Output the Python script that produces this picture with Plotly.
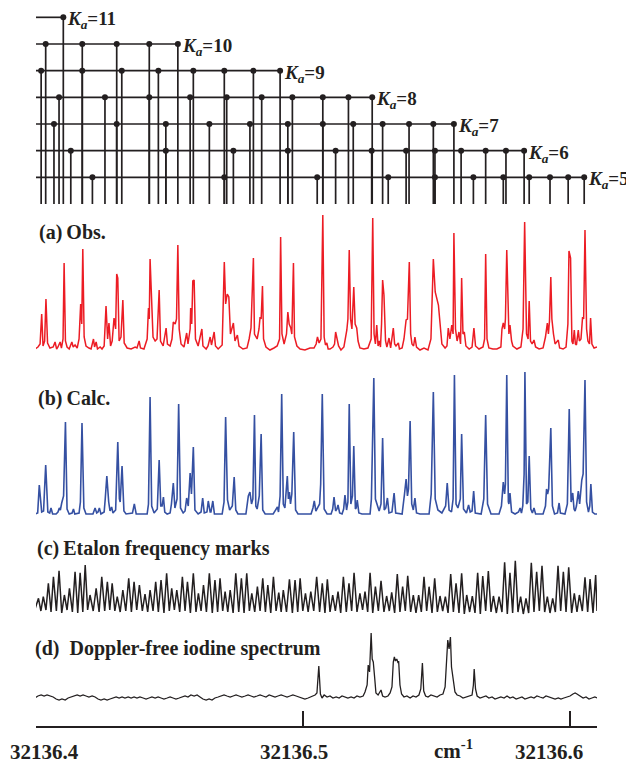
import plotly.graph_objects as go

# ---------------------------------------------------------------
# DATA  (x positions are offsets from 32136.4 cm-1 in units of 1e-4 cm-1)
# ---------------------------------------------------------------
NU0 = 32136.4
X_END = 2101

tick_values = [32136.4, 32136.5, 32136.6]
tick_labels = ["32136.4", "32136.5", "32136.6"]
unit_label = "cm<sup>-1</sup>"

panel_labels = ["(a)\u2009Obs.", "(b)\u2009Calc.", "(c)\u2009Etalon frequency marks",
                "(d)\u00a0\u00a0Doppler-free iodine spectrum"]

# Ka sub-band line assignments (line positions)
ka11_lines = [102]
ka10_lines = [36, 173, 302, 424, 531]
ka9_lines = [19, 173, 321, 458, 589, 705, 814, 914]
ka8_lines = [86, 258, 424, 577, 714, 845, 960, 1074, 1170, 1259]
ka7_lines = [67, 302, 486, 649, 801, 943, 1074, 1188, 1298, 1397, 1488, 1565]
ka6_lines = [130, 486, 739, 943, 1122, 1257, 1386, 1494, 1592, 1684, 1760, 1828]
ka5_lines = [211, 705, 1053, 1319, 1494, 1638, 1750, 1847, 1925, 1993, 2053]

# (a) observed spectrum: (offset, intensity)
obs_points = [
    (-4, 0), (7, 2), (15, 5), (21, 35), (26, 3), (32, 8), (37, 50), (43, 6), (52, 1), (64, 2), (71, 7), (77, 0),
    (82, 2), (90, 7), (95, 1), (101, 10), (105, 86), (110, 8), (116, 2), (124, 0), (134, 7), (139, 2), (146, 4),
    (154, 1), (161, 10), (167, 45), (171, 25), (175, 100), (180, 12), (187, 3), (198, 1), (206, 0), (215, 10),
    (219, 2), (225, 7), (230, 0), (240, 2), (247, 0), (255, 3), (262, 43), (268, 10), (273, 26), (279, 3),
    (285, 8), (292, 31), (298, 20), (302, 75), (306, 71), (311, 8), (318, 12), (325, 49), (330, 6), (341, 1),
    (356, 0), (371, 2), (378, 1), (386, 8), (391, 1), (404, 0), (416, 10), (421, 41), (424, 30), (427, 90),
    (433, 37), (438, 12), (446, 8), (453, 10), (461, 59), (466, 8), (476, 3), (487, 21), (492, 5), (502, 3),
    (509, 10), (514, 27), (521, 25), (526, 30), (531, 104), (536, 20), (543, 5), (554, 2), (564, 16), (569, 5),
    (577, 20), (579, 41), (583, 25), (587, 68), (592, 69), (597, 10), (607, 3), (621, 20), (625, 3), (637, 0),
    (644, 3), (652, 12), (657, 4), (667, 17), (672, 3), (682, 0), (697, 4), (705, 87), (710, 45), (716, 55),
    (722, 52), (728, 15), (739, 26), (745, 8), (754, 14), (760, 3), (775, 0), (790, 1), (798, 10), (805, 21),
    (814, 91), (818, 15), (828, 10), (835, 20), (839, 32), (843, 30), (848, 63), (852, 10), (861, 2), (876, -1),
    (891, 1), (903, 3), (912, 10), (916, 112), (921, 15), (929, 5), (938, 15), (943, 37), (948, 25), (954, 21),
    (958, 15), (964, 86), (968, 12), (977, 3), (989, 0), (1007, -1), (1026, 1), (1041, 1), (1049, 5), (1054, 12),
    (1060, 6), (1067, 10), (1074, 134), (1079, 12), (1084, 4), (1089, 6), (1094, 0), (1101, 0), (1112, 2),
    (1118, 5), (1122, 17), (1127, 10), (1133, 3), (1142, -1), (1153, 2), (1164, 19), (1168, 30), (1173, 99),
    (1178, 30), (1183, 20), (1190, 62), (1195, 25), (1201, 21), (1206, 8), (1213, 1), (1228, 0), (1243, 1),
    (1255, 10), (1261, 131), (1266, 15), (1271, 5), (1276, 24), (1281, 3), (1286, 8), (1290, 2), (1294, 25),
    (1298, 69), (1303, 54), (1309, 8), (1314, 2), (1322, 11), (1328, 1), (1338, 21), (1343, 5), (1348, 3),
    (1357, 6), (1361, 0), (1371, 1), (1378, 10), (1386, 29), (1391, 30), (1398, 87), (1403, 15), (1408, 5),
    (1414, 3), (1419, 12), (1425, 2), (1438, -1), (1453, 1), (1468, -1), (1479, 10), (1488, 90), (1495, 57),
    (1507, 44), (1513, 25), (1520, 5), (1532, 1), (1539, 3), (1544, 21), (1550, 10), (1557, 24), (1562, 15),
    (1565, 116), (1571, 20), (1577, 8), (1584, 17), (1590, 5), (1594, 71), (1599, 15), (1604, 17), (1610, 3),
    (1622, 0), (1633, 2), (1640, 21), (1646, 3), (1659, 0), (1674, 2), (1680, 10), (1684, 95), (1689, 10),
    (1696, 1), (1711, 0), (1726, 0), (1741, 2), (1745, 20), (1750, 26), (1755, 20), (1758, 30), (1763, 99),
    (1768, 25), (1771, 15), (1775, 24), (1781, 8), (1786, 3), (1801, 0), (1816, 2), (1824, 20), (1830, 127),
    (1837, 15), (1843, 10), (1847, 48), (1852, 8), (1858, 5), (1865, 9), (1871, 2), (1884, 0), (1899, 1),
    (1908, 12), (1915, 26), (1919, 15), (1923, 28), (1928, 72), (1932, 30), (1938, 15), (1944, 5), (1956, 9),
    (1961, 1), (1974, 0), (1985, 2), (1992, 25), (1996, 98), (2002, 91), (2007, 8), (2011, 5), (2016, 19),
    (2020, 5), (2024, 4), (2031, 19), (2035, 8), (2041, 10), (2047, 32), (2051, 30), (2056, 119), (2062, 20),
    (2067, 8), (2073, 5), (2077, 31), (2082, 5), (2090, 1), (2101, 2),
]

# (b) calculated spectrum: (offset, intensity)
calc_points = [
    (-4, 0), (6, 1), (12, 29), (21, 2), (28, 3), (36, 49), (44, 2), (51, 1), (56, 6), (62, 0), (75, 0), (82, 2),
    (87, 6), (91, 4), (96, 11), (103, 18), (110, 92), (116, 5), (124, 0), (135, 1), (140, 5), (145, 0), (161, 1),
    (166, 12), (172, 91), (179, 6), (187, 0), (213, 0), (221, 6), (227, 1), (232, 2), (237, 6), (243, 0),
    (255, 2), (259, 15), (265, 38), (272, 12), (277, 3), (283, 7), (288, 1), (298, 4), (306, 72), (312, 15),
    (315, 12), (322, 48), (329, 3), (337, 0), (361, 1), (368, 10), (375, 0), (416, 0), (421, 10), (427, 117),
    (433, 8), (442, 1), (454, 5), (461, 54), (467, 8), (472, 8), (477, 17), (482, 2), (491, 0), (502, 1),
    (507, 10), (514, 31), (520, 6), (528, 15), (534, 110), (541, 6), (551, 1), (558, 3), (564, 16), (570, 8),
    (577, 41), (582, 20), (589, 67), (595, 4), (607, 0), (618, 2), (624, 16), (630, 1), (640, 2), (645, 13),
    (652, 2), (655, 2), (662, 13), (668, 0), (697, 0), (704, 12), (710, 97), (717, 14), (725, 4), (735, 8),
    (742, 37), (748, 4), (756, 0), (786, 0), (795, 18), (801, 22), (807, 10), (812, 15), (818, 99), (823, 8),
    (828, 5), (836, 18), (843, 80), (849, 4), (858, 0), (888, 0), (899, 4), (904, 7), (908, 2), (914, 18),
    (920, 120), (926, 10), (932, 6), (936, 20), (941, 38), (945, 15), (949, 22), (953, 10), (958, 20),
    (965, 82), (972, 4), (981, 0), (1030, 0), (1037, 6), (1042, 13), (1048, 3), (1062, 10), (1066, 30),
    (1072, 120), (1079, 5), (1090, 0), (1105, 0), (1111, 5), (1116, 17), (1122, 3), (1127, 5), (1131, 9),
    (1137, 1), (1146, 0), (1152, 5), (1157, 19), (1163, 4), (1168, 12), (1173, 110), (1179, 10), (1185, 18),
    (1190, 68), (1196, 5), (1199, 6), (1203, 14), (1209, 1), (1221, 0), (1251, 0), (1256, 15), (1265, 136),
    (1271, 15), (1279, 8), (1285, 3), (1292, 10), (1298, 76), (1304, 4), (1310, 6), (1316, 16), (1322, 1),
    (1333, 2), (1341, 21), (1347, 1), (1371, 0), (1380, 20), (1386, 35), (1391, 18), (1395, 25), (1401, 93),
    (1407, 10), (1413, 4), (1419, 16), (1425, 1), (1438, 0), (1472, 0), (1480, 20), (1488, 122), (1495, 15),
    (1505, 4), (1520, 1), (1534, 8), (1540, 31), (1547, 4), (1556, 2), (1562, 15), (1567, 139), (1573, 10),
    (1580, 6), (1589, 15), (1594, 80), (1601, 5), (1612, 1), (1620, 9), (1626, 2), (1633, 3), (1639, 23),
    (1645, 1), (1667, 0), (1677, 15), (1684, 99), (1691, 10), (1704, 0), (1734, 0), (1743, 8), (1750, 32),
    (1755, 20), (1758, 30), (1763, 139), (1769, 12), (1771, 10), (1775, 21), (1781, 2), (1794, 0), (1807, 2),
    (1813, 6), (1818, 1), (1823, 8), (1828, 40), (1831, 142), (1837, 10), (1842, 12), (1847, 58), (1853, 5),
    (1859, 1), (1865, 6), (1871, 0), (1899, 0), (1908, 8), (1912, 25), (1916, 20), (1920, 25), (1928, 86),
    (1934, 8), (1942, 0), (1953, 1), (1959, 11), (1964, 1), (1981, 0), (1990, 10), (1997, 105), (2004, 12),
    (2010, 21), (2015, 5), (2019, 3), (2024, 8), (2031, 23), (2036, 10), (2040, 25), (2044, 34), (2049, 40),
    (2056, 134), (2062, 12), (2069, 2), (2074, 8), (2078, 30), (2084, 2), (2093, 0), (2101, 0),
]

# (c) etalon fringes: maxima and minima
etalon_peak_pos = [
    9, 27, 46, 65, 86, 106, 125, 146, 165, 184, 202, 225, 246, 267, 285, 304, 325, 347, 367, 387,
    408, 427, 448, 468, 489, 508, 527, 548, 567, 589, 608, 627, 649, 670, 689, 708, 727, 748, 769, 789,
    808, 829, 849, 868, 889, 909, 926, 949, 970, 989, 1009, 1029,
    1051, 1072, 1091, 1111, 1131, 1151, 1172, 1191, 1213, 1232, 1251, 1271, 1292, 1313, 1332, 1353, 1373, 1392,
    1413, 1433, 1453, 1472, 1493, 1513, 1533, 1553, 1573, 1594, 1613, 1634, 1654, 1673, 1694, 1713, 1734, 1755,
    1775, 1795, 1815, 1835, 1855, 1875, 1895, 1915, 1935, 1955, 1975, 1995, 2016, 2035, 2056, 2075, 2096,
]
etalon_peak_int = [
    13.7, 15.3, 28.7, 35.3, 41.3, 17, 23.7, 40.3, 39.3, 47, 17, 23.7, 35.3, 30.3, 28.7, 15.3, 22, 33.7, 30.3, 27,
    18, 22, 30.3, 32, 38.7, 23.7, 22, 35.3, 30.3, 38.7, 18.7, 27, 38.7, 32, 33.7, 20.3, 22, 38.7, 33.7, 38.7,
    18.7, 25.3, 33.7, 27, 35.3, 19.3, 22, 32.7, 32, 33.7, 18.7, 20.3,
    35.3, 28.7, 32.7, 17, 20.3, 35.3, 28.7, 39.3, 18.7, 20.3, 39.3, 25.3, 31.3, 16, 19.7, 38, 25.3, 36.3, 17, 17,
    35.3, 25.3, 33.7, 16, 15.3, 38, 28.7, 38.7, 17, 16, 39.3, 36, 41, 16, 15.3, 49.7, 39.3, 51.3, 15.3, 13.7,
    49.3, 40.3, 46.3, 15.3, 13.7, 46.3, 40.3, 44.7, 18.7, 17, 34.7, 33, 37,
]
etalon_valley_pos = [
    -4, 18, 37, 56, 76, 96, 116, 136, 156, 175, 193, 214, 236, 257, 276, 295, 315, 336, 357, 377,
    398, 418, 438, 458, 479, 499, 518, 538, 558, 578, 599, 618, 638, 660, 680, 699, 718, 738, 759, 779,
    799, 819, 839, 859, 879, 899, 918, 938, 960, 980, 999, 1019, 1040, 1062, 1082, 1101, 1121, 1141, 1162, 1182,
    1202, 1223, 1242, 1261, 1282, 1303, 1323, 1343, 1363, 1383, 1403, 1423, 1443, 1463, 1483, 1503, 1523, 1543,
    1563, 1584, 1604, 1624, 1644, 1664, 1684, 1704, 1724, 1745, 1765, 1785, 1805, 1825, 1845, 1865, 1885, 1905,
    1925, 1945, 1965, 1985, 2006, 2026, 2046, 2066, 2086, 2101,
]
etalon_valley_int = [
    3, 1, 2, 0, 1, -1, 2, 0, -1, 0, 2, 1, 0, 1, 2, 1, 0, 1, 0, 2, 1, 0, 1, 0, -1, 1, 2, 0, 1, -1,
    0, 1, 0, -1, 0, 1, 0, -1, 0, -1, 1, 0, 1, 0, -1, 1, 0, 0, -1, 0, 1, 0, 1, 0, -1, 0, 1, -1, 0, 1,
    0, 2, 0, -1, 1, 0, 1, -1, 0, 1, 0, -1, 0, 1, -1, 0, 1, -1, 0, -1, -2, 0, -1, -2, 1, 0, -1, 0, -2, -1,
    0, -2, -1, 0, 1, 0, -1, 0, 1, 0, -1, 0, 1, 0, -1, 1,
]

# (d) Doppler-free iodine spectrum: (offset, intensity)
iodine_points = [
    (-4, -1), (7, 1), (19, 2), (30, 1), (41, 2), (52, 1), (64, 0), (75, -2), (86, -3), (97, -2), (109, -3),
    (120, -1), (131, 0), (142, 1), (154, 2), (165, 1), (176, 2), (187, 1), (198, 0), (210, 1), (221, 0),
    (232, -2), (243, -3), (255, -2), (266, -3), (277, -2), (288, -1), (300, 0), (311, -1), (322, 0), (333, -1),
    (345, 0), (356, -1), (367, 0), (378, -1), (389, 0), (401, -1), (412, -2), (423, -1), (434, 0), (446, -1),
    (457, 0), (468, -1), (479, -2), (491, -1), (502, 0), (513, -1), (524, -2), (536, -1), (547, 0), (558, 1),
    (569, 0), (580, 2), (592, 1), (603, 2), (614, 0), (625, -2), (637, -3), (648, -2), (659, -3), (670, -1),
    (682, 0), (693, 1), (704, 2), (715, 1), (727, 0), (738, 1), (749, 2), (760, 1), (771, 0), (783, 1),
    (794, 2), (805, 1), (816, 0), (828, 1), (839, 2), (850, 1), (861, 0), (873, 2), (884, 1), (895, 0),
    (906, 1), (918, 2), (929, 1), (940, 0), (951, 1), (962, 2), (974, 1), (985, 0), (996, -1), (1007, -2),
    (1019, -1), (1030, 0), (1037, 1), (1045, 2), (1052, 4), (1059, 31), (1065, 3), (1071, -1), (1079, 2),
    (1090, 0), (1101, 1), (1112, -1), (1124, 0), (1135, -1), (1146, 1), (1157, 0), (1168, -1), (1180, 0),
    (1191, -1), (1202, 1), (1213, 0), (1225, 1), (1232, 5), (1240, 12), (1244, 32), (1249, 25), (1255, 64),
    (1259, 38), (1263, 35), (1268, 20), (1273, 4), (1281, 2), (1292, 7), (1298, 1), (1307, 0), (1318, 1),
    (1326, 4), (1333, 10), (1338, 35), (1342, 40), (1346, 36), (1351, 38), (1356, 34), (1358, 36), (1363, 12),
    (1369, 3), (1378, 0), (1389, 1), (1401, -1), (1412, 1), (1423, 0), (1434, 2), (1441, 8), (1447, 34),
    (1452, 6), (1459, 1), (1468, 0), (1479, 2), (1491, 1), (1502, 0), (1513, 2), (1524, 3), (1532, 10),
    (1537, 40), (1542, 57), (1547, 48), (1552, 60), (1556, 30), (1563, 14), (1569, 5), (1577, 2), (1588, 1),
    (1599, -1), (1610, 0), (1622, 1), (1633, 2), (1638, 12), (1641, 28), (1646, 8), (1652, 1), (1663, -1),
    (1674, 0), (1685, 1), (1696, -1), (1708, 0), (1719, -2), (1730, -1), (1741, 0), (1753, -1), (1764, 1),
    (1775, -1), (1786, 0), (1798, -2), (1809, -1), (1820, 0), (1831, -2), (1843, -1), (1854, 0), (1865, -1),
    (1876, 1), (1887, 0), (1899, -1), (1910, 1), (1921, 0), (1932, -1), (1944, -2), (1956, -1), (1966, -2),
    (1977, -1), (1989, 0), (2000, 1), (2011, 3), (2019, 4), (2026, 3), (2037, 1), (2049, -1), (2060, 0),
    (2071, -2), (2082, -1), (2093, 0), (2101, -1),
]

# ---------------------------------------------------------------
# FIGURE  (the page body has an 8 px margin, so the figure is 8 px smaller
#          and every page position is shifted by that margin)
# ---------------------------------------------------------------
PAGE_W, PAGE_H, BODY = 634, 763, 8
W, H = PAGE_W - BODY, PAGE_H - BODY
PLOT_L, PLOT_R = 36, 597            # page x of the axis ends
SERIF = "Liberation Serif, Times New Roman, serif"
INK = "#231f20"


def wn(off):
    return NU0 + off * 1e-4


def py(page_y):
    return 1 - (page_y - BODY) / H


def dom(top_px, bottom_px):
    return [py(bottom_px), py(top_px)]


fig = go.Figure()

# ---- Ka ladder
ladder = [(11, ka11_lines), (10, ka10_lines), (9, ka9_lines), (8, ka8_lines),
          (7, ka7_lines), (6, ka6_lines), (5, ka5_lines)]
STICK_END = 4.0
lx, ly, dx, dy = [], [], [], []
for ka, offs in ladder:
    lx += [wn(-4), wn(max(offs)), None]
    ly += [ka, ka, None]
    for o in offs:
        lx += [wn(o), wn(o), None]
        ly += [ka, STICK_END, None]
        dx.append(wn(o))
        dy.append(ka)
fig.add_trace(go.Scatter(x=lx, y=ly, mode="lines", line=dict(color=INK, width=1.7),
                         yaxis="y", hoverinfo="skip"))
fig.add_trace(go.Scatter(x=dx, y=dy, mode="markers", marker=dict(color=INK, size=6),
                         yaxis="y", hoverinfo="skip"))

# ---- spectra
fig.add_trace(go.Scatter(x=[wn(p[0]) for p in obs_points], y=[p[1] for p in obs_points],
                         mode="lines", line=dict(color="#ec1c24", width=1.5), yaxis="y2"))
fig.add_trace(go.Scatter(x=[wn(p[0]) for p in calc_points], y=[p[1] for p in calc_points],
                         mode="lines", line=dict(color="#3550a2", width=1.6), yaxis="y3"))
ex, ey = [], []
for i in range(len(etalon_peak_pos)):
    ex += [wn(etalon_valley_pos[i]), wn(etalon_peak_pos[i])]
    ey += [etalon_valley_int[i], etalon_peak_int[i]]
ex.append(wn(etalon_valley_pos[-1]))
ey.append(etalon_valley_int[-1])
fig.add_trace(go.Scatter(x=ex, y=ey, mode="lines", line=dict(color=INK, width=1.5), yaxis="y4"))
fig.add_trace(go.Scatter(x=[wn(p[0]) for p in iodine_points], y=[p[1] for p in iodine_points],
                         mode="lines", line=dict(color=INK, width=1.3), yaxis="y5"))

annotations = []
# Ka labels
for ka, offs in ladder:
    annotations.append(dict(
        x=wn(max(offs)), y=ka, xref="x", yref="y", xanchor="left", yanchor="middle",
        xshift=2, yshift=-3, showarrow=False,
        text="<b><i>K</i></b><sub><b><i>a</i></b></sub><b>=%d</b>" % ka,
        font=dict(family=SERIF, size=19, color=INK)))

# panel labels
for txt, ypix, xs in zip(panel_labels, [233, 398, 548, 648], [1, 0, -1, -3]):
    annotations.append(dict(
        x=0, y=py(ypix), xref="paper", yref="paper", xanchor="left", yanchor="middle",
        xshift=xs, showarrow=False, text="<b>%s</b>" % txt,
        font=dict(family=SERIF, size=20, color=INK)))

# tick labels and unit
for tv, tl, xs in zip(tick_values, tick_labels, [8, -9, -21]):
    annotations.append(dict(
        x=tv, y=py(752), xref="x", yref="paper", xanchor="center", yanchor="middle",
        xshift=xs, showarrow=False, text="<b>%s</b>" % tl,
        font=dict(family=SERIF, size=21, color=INK)))
annotations.append(dict(
    x=(453 - PLOT_L) / (PLOT_R - PLOT_L), y=py(752), xref="paper", yref="paper", xanchor="center",
    yanchor="middle", yshift=3, showarrow=False, text="<b>%s</b>" % unit_label,
    font=dict(family=SERIF, size=21, color=INK)))

hidden = dict(visible=False, showgrid=False, zeroline=False, fixedrange=True)
fig.update_layout(
    width=W, height=H,
    margin=dict(l=PLOT_L - BODY, r=PAGE_W - PLOT_R, t=0, b=0, autoexpand=False),
    paper_bgcolor="white", plot_bgcolor="white", showlegend=False,
    xaxis=dict(range=[wn(-0.3), wn(X_END)], anchor="free", position=py(727),
               showline=True, linecolor=INK, linewidth=2, ticks="inside", ticklen=15,
               tickwidth=2, tickcolor=INK, tickvals=tick_values, showticklabels=False,
               showgrid=False, zeroline=False),
    yaxis=dict(domain=dom(4 + BODY, 204), range=[4.0, 11.5 - BODY / 26.67], **hidden),
    yaxis2=dict(domain=dom(210, 356), range=[-7, 139], **hidden),
    yaxis3=dict(domain=dom(368, 518), range=[-4, 146], **hidden),
    yaxis4=dict(domain=dom(560, 616), range=[-4, 52], **hidden),
    yaxis5=dict(domain=dom(630, 702), range=[-5, 67], **hidden),
    annotations=annotations,
)

fig.write_html("out.html")
